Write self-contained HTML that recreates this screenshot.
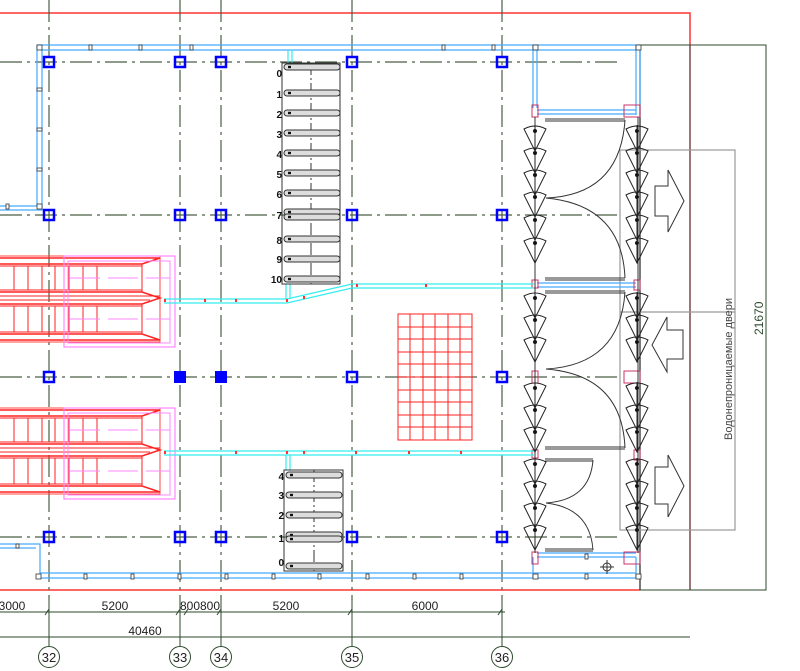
<!DOCTYPE html>
<html><head><meta charset="utf-8"><style>
html,body{margin:0;padding:0;background:#fff;}
svg{display:block;font-family:"Liberation Sans",sans-serif;}
</style></head><body>
<svg width="800" height="671" viewBox="0 0 800 671" xmlns="http://www.w3.org/2000/svg">
<defs>
<g id="fan" fill="none" stroke="#222" stroke-width="1">
  <path d="M-11,0 Q0,-6 11,0 L0,22 Z"/><line x1="0" y1="-4" x2="0" y2="22"/><circle cx="0" cy="2" r="1.6" fill="#111"/>
</g>
<g id="esc">
  <rect x="-5" y="0" width="165" height="86" fill="none" stroke="#f44" stroke-width="1"/>
  <path d="M-5,2 H160 L142,8 H-5" fill="none" stroke="#f22" stroke-width="1.5"/>
  <path d="M-5,36 H142 L160,42 L142,48 H-5" fill="none" stroke="#f22" stroke-width="1.5"/>
  <line x1="-5" y1="40" x2="160" y2="40" stroke="#f22"/><line x1="-5" y1="44" x2="150" y2="44" stroke="#f22"/>
  <path d="M-5,78 H142 L160,84 H-5" fill="none" stroke="#f22" stroke-width="1.5"/>
  <g stroke="#f22" stroke-width="1">
   <line x1="-5" y1="10" x2="142" y2="10"/><line x1="-5" y1="34" x2="142" y2="34"/>
   <line x1="-5" y1="50" x2="142" y2="50"/><line x1="-5" y1="76" x2="142" y2="76"/>
   <path d="M14,10V34M28,10V34M42,10V34M55,10V34M69,10V34M83,10V34M97,10V34M142,8V36"/>
   <path d="M14,50V76M28,50V76M42,50V76M55,50V76M69,50V76M83,50V76M97,50V76M142,48V78"/>
  </g>
  <rect x="64" y="0" width="111" height="91" fill="none" stroke="#f8f" stroke-width="1.2"/>
  <rect x="68" y="5" width="102" height="82" fill="none" stroke="#f8f" stroke-width="1"/>
  <line x1="70" y1="22" x2="170" y2="22" stroke="#f8f" stroke-dasharray="30,8"/>
  <line x1="70" y1="63" x2="170" y2="63" stroke="#f8f" stroke-dasharray="30,8"/>
</g>
<g id="rung"><rect x="0" y="-3" width="56" height="6" rx="3" fill="#ddd" stroke="#333" stroke-width="1"/><rect x="4" y="-1.2" width="3" height="2.4" fill="#111"/></g>
<rect id="col" x="-5" y="-5" width="10" height="10" fill="none" stroke="#00f" stroke-width="2.5"/>
</defs>

<!-- red border -->
<path d="M0,13 H690 V45" fill="none" stroke="#f33" stroke-width="1.5"/>
<line x1="690" y1="45" x2="690" y2="590" stroke="#7a4a4a" stroke-width="1.5"/>
<line x1="0" y1="590" x2="640" y2="590" stroke="#f33" stroke-width="1.5"/>
<path d="M640,45 H766 V590 H640" fill="none" stroke="#2d4a2d" stroke-width="1"/>
<line x1="640" y1="45" x2="640" y2="590" stroke="#222" stroke-width="1.2"/>
<rect x="620" y="150" width="115" height="380" fill="none" stroke="#999" stroke-width="1.2"/>
<line x1="620" y1="312" x2="735" y2="312" stroke="#999" stroke-width="1.2"/>
<text transform="translate(732,440) rotate(-90)" font-size="11" fill="#444">Водонепроницаемые двери</text>
<text transform="translate(763,335) rotate(-90)" font-size="12" fill="#2d4a2d">21670</text>

<!-- grid lines -->
<g stroke="#4a5e44" stroke-width="1.2" stroke-dasharray="22,5,3,5" fill="none">
 <line x1="0" y1="62" x2="620" y2="62"/><line x1="0" y1="215" x2="620" y2="215"/>
 <line x1="0" y1="377" x2="620" y2="377"/><line x1="0" y1="537" x2="620" y2="537"/>
 <line x1="49" y1="0" x2="49" y2="600"/><line x1="180" y1="0" x2="180" y2="600"/>
 <line x1="221" y1="0" x2="221" y2="600"/><line x1="352" y1="0" x2="352" y2="600"/>
 <line x1="502" y1="0" x2="502" y2="600"/>
</g>

<!-- walls -->
<g fill="none" stroke="#4af" stroke-width="1.2">
 <path d="M37,45 H640 M42,50 H636"/>
 <path d="M37,45 V206 H0 M42,50 V210 H0"/>
 <path d="M0,544 H40 V578 H640 M0,548 H36 M40,573 H636"/>
 <path d="M636,45 V115 M640,50 V115 M533,45 V108 M537,50 V108 M537,110 H636 M537,114 H636"/>
 <path d="M537,283 H636 M537,287 H636 M537,553 H636 M537,557 H636 M533,557 V578 M636,557 V578"/>
</g>
<g fill="#fff" stroke="#333" stroke-width="0.8">
 <rect x="37" y="45" width="5" height="5"/><rect x="89" y="45" width="3" height="5"/><rect x="139" y="45" width="3" height="5"/><rect x="190" y="45" width="3" height="5"/><rect x="442" y="45" width="3" height="5"/><rect x="492" y="45" width="3" height="5"/><rect x="533" y="45" width="5" height="5"/><rect x="636" y="45" width="5" height="5"/>
 <rect x="37" y="88" width="5" height="3"/><rect x="37" y="128" width="5" height="3"/><rect x="37" y="168" width="5" height="3"/><rect x="6" y="204" width="3" height="5"/><rect x="37" y="204" width="5" height="5"/>
 <rect x="36" y="574" width="5" height="5"/><rect x="84" y="574" width="3" height="5"/><rect x="131" y="574" width="3" height="5"/><rect x="178" y="574" width="3" height="5"/><rect x="225" y="574" width="3" height="5"/><rect x="272" y="574" width="3" height="5"/><rect x="318" y="574" width="3" height="5"/><rect x="366" y="574" width="3" height="5"/><rect x="413" y="574" width="3" height="5"/><rect x="460" y="574" width="3" height="5"/><rect x="533" y="574" width="5" height="5"/><rect x="636" y="574" width="5" height="5"/><rect x="585" y="554" width="3" height="5"/><rect x="585" y="574" width="3" height="5"/>
 <rect x="16" y="544" width="3" height="4"/>
</g>
<g fill="none" stroke="#c36" stroke-width="1">
 <rect x="532" y="105" width="6" height="12"/><rect x="624" y="105" width="16" height="12"/>
 <rect x="532" y="280" width="6" height="8"/><rect x="634" y="280" width="6" height="10"/>
 <rect x="532" y="371" width="6" height="12"/><rect x="624" y="371" width="16" height="12"/>
 <rect x="532" y="450" width="6" height="8"/><rect x="634" y="450" width="6" height="10"/>
 <rect x="532" y="552" width="6" height="12"/><rect x="624" y="552" width="16" height="12"/>
</g>

<!-- escalators -->
<use href="#esc" x="0" y="256"/>
<use href="#esc" x="0" y="408"/>

<!-- cyan lines -->
<g fill="none" stroke="#3ee" stroke-width="1.2">
 <path d="M164,299 H287 L352,284 H534 M164,303 H287 L352,288 H534"/>
 <path d="M286,284 V299 M290,284 V299"/>
 <path d="M164,451 H534 M164,455 H534 M286,455 V470 M290,455 V470 M288,50 V63 M292,50 V63"/>
</g>
<g fill="#f33">
 <rect x="164" y="299" width="2" height="3"/><rect x="204" y="299" width="2" height="3"/><rect x="235" y="299" width="2" height="3"/><rect x="286" y="299" width="2" height="3"/><rect x="303" y="296" width="2" height="3"/><rect x="356" y="284" width="2" height="3"/><rect x="425" y="284" width="2" height="3"/>
 <rect x="164" y="451" width="2" height="3"/><rect x="235" y="451" width="2" height="3"/><rect x="286" y="451" width="2" height="3"/><rect x="303" y="451" width="2" height="3"/><rect x="355" y="451" width="2" height="3"/><rect x="408" y="451" width="2" height="3"/><rect x="460" y="451" width="2" height="3"/>
</g>

<!-- stairs -->
<rect x="282" y="63" width="58" height="221" fill="none" stroke="#333" stroke-width="1"/>
<line x1="311" y1="63" x2="311" y2="284" stroke="#333" stroke-dasharray="12,3,2,3"/>
<g>
 <use href="#rung" x="284" y="67"/><use href="#rung" x="284" y="93"/><use href="#rung" x="284" y="113"/><use href="#rung" x="284" y="133"/><use href="#rung" x="284" y="153"/><use href="#rung" x="284" y="173"/><use href="#rung" x="284" y="193"/><use href="#rung" x="284" y="212"/><use href="#rung" x="284" y="217"/><use href="#rung" x="284" y="239"/><use href="#rung" x="284" y="259"/><use href="#rung" x="284" y="279"/>
</g>
<g font-size="10" font-weight="bold" fill="#111" text-anchor="end">
 <text x="282" y="77">0</text><text x="282" y="98">1</text><text x="282" y="118">2</text><text x="282" y="138">3</text><text x="282" y="158">4</text><text x="282" y="178">5</text><text x="282" y="198">6</text><text x="282" y="219">7</text><text x="282" y="244">8</text><text x="282" y="263">9</text><text x="282" y="283">10</text>
 <text x="284" y="480">4</text><text x="284" y="499">3</text><text x="284" y="519">2</text><text x="284" y="542">1</text><text x="284" y="566">0</text>
</g>
<rect x="284" y="470" width="59" height="101" fill="none" stroke="#333" stroke-width="1"/>
<line x1="314" y1="470" x2="314" y2="571" stroke="#333" stroke-dasharray="12,3,2,3"/>
<use href="#rung" x="286" y="475"/><use href="#rung" x="286" y="495"/><use href="#rung" x="286" y="515"/><use href="#rung" x="286" y="535"/><use href="#rung" x="286" y="539"/><use href="#rung" x="286" y="566"/>

<!-- red grid -->
<g stroke="#f22" stroke-width="1" fill="none">
 <rect x="398" y="314" width="74" height="126"/>
 <path d="M410,314V440M423,314V440M435,314V440M448,314V440M460,314V440"/>
 <path d="M398,327H472M398,339H472M398,352H472M398,364H472M398,377H472M398,390H472M398,402H472M398,415H472M398,427H472"/>
</g>

<!-- columns -->
<g>
 <use href="#col" x="49" y="62"/><use href="#col" x="180" y="62"/><use href="#col" x="221" y="62"/><use href="#col" x="352" y="62"/><use href="#col" x="502" y="62"/>
 <use href="#col" x="49" y="215"/><use href="#col" x="180" y="215"/><use href="#col" x="221" y="215"/><use href="#col" x="352" y="215"/><use href="#col" x="502" y="215"/>
 <use href="#col" x="49" y="377"/><use href="#col" x="352" y="377"/><use href="#col" x="502" y="377"/>
 <use href="#col" x="49" y="537"/><use href="#col" x="180" y="537"/><use href="#col" x="221" y="537"/><use href="#col" x="352" y="537"/><use href="#col" x="502" y="537"/>
 <rect x="174" y="371" width="12" height="12" fill="#00f"/><rect x="215" y="371" width="12" height="12" fill="#00f"/>
</g>

<!-- doors -->
<g stroke="#333" stroke-width="1" fill="none">
 <line x1="535" y1="117" x2="535" y2="553"/><line x1="638" y1="117" x2="638" y2="553"/>
 <path d="M545,119 H625 M545,121 H625 M545,280 H625 M545,278 H625"/>
 <path d="M625,120 Q620,195 546,198 Q622,205 625,278"/>
 <path d="M545,291 H625 M545,293 H625 M545,449 H625 M545,447 H625"/>
 <path d="M625,292 Q620,365 546,369 Q622,375 625,448"/>
 <path d="M545,459 H593 M545,461 H593 M545,549 H593 M545,551 H593"/>
 <path d="M593,460 Q590,500 546,503 Q590,508 593,550"/>
 <path d="M655,186 H668 V170 L684,201 L668,232 V216 H655 Z"/>
 <path d="M683,330 H667 V317 L652,345 L667,372 V359 H683 Z"/>
 <path d="M655,467 H668 V455 L684,486 L668,517 V504 H655 Z"/>
 <circle cx="607" cy="567" r="4"/><path d="M600,567H614M607,560V574"/>
</g>
<g>
 <use href="#fan" x="535" y="129"/><use href="#fan" x="535" y="151"/><use href="#fan" x="535" y="173"/><use href="#fan" x="535" y="195"/><use href="#fan" x="535" y="218"/><use href="#fan" x="535" y="241"/>
 <use href="#fan" x="535" y="296"/><use href="#fan" x="535" y="318"/><use href="#fan" x="535" y="340"/><use href="#fan" x="535" y="386"/><use href="#fan" x="535" y="408"/><use href="#fan" x="535" y="430"/>
 <use href="#fan" x="535" y="462"/><use href="#fan" x="535" y="484"/><use href="#fan" x="535" y="506"/><use href="#fan" x="535" y="528"/>
 <use href="#fan" x="637" y="129"/><use href="#fan" x="637" y="151"/><use href="#fan" x="637" y="173"/><use href="#fan" x="637" y="195"/><use href="#fan" x="637" y="218"/><use href="#fan" x="637" y="241"/>
 <use href="#fan" x="637" y="296"/><use href="#fan" x="637" y="318"/><use href="#fan" x="637" y="340"/><use href="#fan" x="637" y="386"/><use href="#fan" x="637" y="408"/><use href="#fan" x="637" y="430"/>
 <use href="#fan" x="637" y="462"/><use href="#fan" x="637" y="484"/><use href="#fan" x="637" y="506"/><use href="#fan" x="637" y="528"/>
</g>

<!-- bottom dims -->
<g stroke="#2d4a2d" stroke-width="1" fill="none">
 <line x1="0" y1="612" x2="505" y2="612"/><line x1="0" y1="637" x2="690" y2="637"/>
 <path d="M45,615L49,609M176,615L180,609M184,615L188,609M217,615L221,609M348,615L352,609M498,615L502,609"/>
 <line x1="49" y1="600" x2="49" y2="646"/><line x1="180" y1="600" x2="180" y2="646"/><line x1="221" y1="600" x2="221" y2="646"/><line x1="352" y1="600" x2="352" y2="646"/><line x1="502" y1="600" x2="502" y2="646"/>
 <circle cx="49" cy="657" r="10.5"/><circle cx="180" cy="657" r="10.5"/><circle cx="221" cy="657" r="10.5"/><circle cx="352" cy="657" r="10.5"/><circle cx="502" cy="657" r="10.5"/>
</g>
<g font-size="12" fill="#222" text-anchor="middle">
 <text x="12" y="610">3000</text><text x="115" y="610">5200</text><text x="200" y="610">800800</text><text x="286" y="610">5200</text><text x="425" y="610">6000</text><text x="145" y="635">40460</text>
 <text x="49" y="662" font-size="13">32</text><text x="180" y="662" font-size="13">33</text><text x="221" y="662" font-size="13">34</text><text x="352" y="662" font-size="13">35</text><text x="502" y="662" font-size="13">36</text>
</g>
</svg>
</body></html>
